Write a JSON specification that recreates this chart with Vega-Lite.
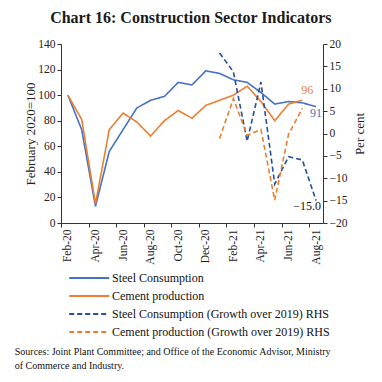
{
  "$schema": "https://vega.github.io/schema/vega-lite/v6.json",
  "background": "white",
  "padding": {"left": 14, "top": 10, "right": 5, "bottom": 2},
  "title": {"text": "Chart 16: Construction Sector Indicators", "font": "Liberation Serif", "fontSize": 16, "fontWeight": "bold", "color": "#1a1a1a", "anchor": "middle", "offset": 12},
  "config": {
    "font": "Liberation Serif",
    "view": {"stroke": null},
    "axis": {"labelFont": "Liberation Serif", "labelFontSize": 11.5, "labelColor": "#222", "titleFont": "Liberation Serif", "titleFontSize": 13, "titleFontWeight": "normal", "titleColor": "#222", "domainColor": "#333", "tickColor": "#333", "tickSize": 4, "grid": false, "labelPadding": 2, "labelOverlap": false}
  },
  "datasets": {
    "d": [
      {"m": "Feb-20", "s": "Steel Consumption", "v": 100},
      {"m": "Mar-20", "s": "Steel Consumption", "v": 73},
      {"m": "Apr-20", "s": "Steel Consumption", "v": 13},
      {"m": "May-20", "s": "Steel Consumption", "v": 56},
      {"m": "Jun-20", "s": "Steel Consumption", "v": 73},
      {"m": "Jul-20", "s": "Steel Consumption", "v": 90},
      {"m": "Aug-20", "s": "Steel Consumption", "v": 96},
      {"m": "Sep-20", "s": "Steel Consumption", "v": 99},
      {"m": "Oct-20", "s": "Steel Consumption", "v": 110},
      {"m": "Nov-20", "s": "Steel Consumption", "v": 108},
      {"m": "Dec-20", "s": "Steel Consumption", "v": 119},
      {"m": "Jan-21", "s": "Steel Consumption", "v": 117},
      {"m": "Feb-21", "s": "Steel Consumption", "v": 112},
      {"m": "Mar-21", "s": "Steel Consumption", "v": 110},
      {"m": "Apr-21", "s": "Steel Consumption", "v": 102},
      {"m": "May-21", "s": "Steel Consumption", "v": 93},
      {"m": "Jun-21", "s": "Steel Consumption", "v": 95},
      {"m": "Jul-21", "s": "Steel Consumption", "v": 94},
      {"m": "Aug-21", "s": "Steel Consumption", "v": 91},
      {"m": "Feb-20", "s": "Cement production", "v": 100},
      {"m": "Mar-20", "s": "Cement production", "v": 81},
      {"m": "Apr-20", "s": "Cement production", "v": 15},
      {"m": "May-20", "s": "Cement production", "v": 73},
      {"m": "Jun-20", "s": "Cement production", "v": 86},
      {"m": "Jul-20", "s": "Cement production", "v": 79},
      {"m": "Aug-20", "s": "Cement production", "v": 68},
      {"m": "Sep-20", "s": "Cement production", "v": 80},
      {"m": "Oct-20", "s": "Cement production", "v": 88},
      {"m": "Nov-20", "s": "Cement production", "v": 82},
      {"m": "Dec-20", "s": "Cement production", "v": 92},
      {"m": "Jan-21", "s": "Cement production", "v": 96},
      {"m": "Feb-21", "s": "Cement production", "v": 100},
      {"m": "Mar-21", "s": "Cement production", "v": 107},
      {"m": "Apr-21", "s": "Cement production", "v": 95},
      {"m": "May-21", "s": "Cement production", "v": 80},
      {"m": "Jun-21", "s": "Cement production", "v": 93},
      {"m": "Jul-21", "s": "Cement production", "v": 96},
      {"m": "Jan-21", "s": "Steel Consumption (Growth over 2019) RHS", "v": 18},
      {"m": "Feb-21", "s": "Steel Consumption (Growth over 2019) RHS", "v": 13.8},
      {"m": "Mar-21", "s": "Steel Consumption (Growth over 2019) RHS", "v": -1.7},
      {"m": "Apr-21", "s": "Steel Consumption (Growth over 2019) RHS", "v": 11.5},
      {"m": "May-21", "s": "Steel Consumption (Growth over 2019) RHS", "v": -11.3},
      {"m": "Jun-21", "s": "Steel Consumption (Growth over 2019) RHS", "v": -5.2},
      {"m": "Jul-21", "s": "Steel Consumption (Growth over 2019) RHS", "v": -5.9},
      {"m": "Aug-21", "s": "Steel Consumption (Growth over 2019) RHS", "v": -15.0},
      {"m": "Jan-21", "s": "Cement production (Growth over 2019) RHS", "v": -1.1},
      {"m": "Feb-21", "s": "Cement production (Growth over 2019) RHS", "v": 7.8},
      {"m": "Mar-21", "s": "Cement production (Growth over 2019) RHS", "v": -0.4},
      {"m": "Apr-21", "s": "Cement production (Growth over 2019) RHS", "v": 0.9},
      {"m": "May-21", "s": "Cement production (Growth over 2019) RHS", "v": -14.9},
      {"m": "Jun-21", "s": "Cement production (Growth over 2019) RHS", "v": -0.2},
      {"m": "Jul-21", "s": "Cement production (Growth over 2019) RHS", "v": 5.6}
    ]
  },
  "resolve": {"legend": {"color": "independent", "strokeDash": "independent"}},
  "vconcat": [
    {
      "title": {"text": ["Sources: Joint Plant Committee; and Office of the Economic Advisor, Ministry", "of Commerce and Industry."], "orient": "bottom", "anchor": "start", "frame": "bounds", "font": "Liberation Serif", "fontSize": 10, "fontWeight": "normal", "color": "#111", "lineHeight": 14, "offset": 7, "dx": -10},
      "resolve": {"legend": {"color": "independent", "strokeDash": "independent"}},
      "vconcat": [
        {
          "width": 262,
          "height": 179,
          "data": {"name": "d"},
          "encoding": {
            "x": {
              "field": "m", "type": "ordinal",
              "sort": ["Feb-20","Mar-20","Apr-20","May-20","Jun-20","Jul-20","Aug-20","Sep-20","Oct-20","Nov-20","Dec-20","Jan-21","Feb-21","Mar-21","Apr-21","May-21","Jun-21","Jul-21","Aug-21"],
              "scale": {"type": "point", "padding": 0.5, "domain": ["Feb-20","Mar-20","Apr-20","May-20","Jun-20","Jul-20","Aug-20","Sep-20","Oct-20","Nov-20","Dec-20","Jan-21","Feb-21","Mar-21","Apr-21","May-21","Jun-21","Jul-21","Aug-21"]},
              "axis": {"title": null, "values": ["Feb-20","Apr-20","Jun-20","Aug-20","Oct-20","Dec-20","Feb-21","Apr-21","Jun-21","Aug-21"], "labelAngle": 270, "tickOffset": -6.9, "labelOffset": 6.9}
            }
          },
          "layer": [
            {
              "encoding": {
                "y": {"field": "v", "type": "quantitative", "scale": {"domain": [0, 140]}, "axis": {"title": "February 2020=100", "values": [0,20,40,60,80,100,120,140], "titlePadding": 0}}
              },
              "layer": [
                {
                  "transform": [{"filter": "datum.s == 'Steel Consumption' || datum.s == 'Cement production'"}],
                  "mark": {"type": "line", "strokeWidth": 1.6},
                  "encoding": {
                    "color": {"field": "s", "type": "nominal", "scale": {"domain": ["Steel Consumption", "Cement production", "Steel Consumption (Growth over 2019) RHS", "Cement production (Growth over 2019) RHS"], "range": ["#4472C4", "#ED7D31", "#234F9C", "#ED7D31"]}, "legend": {"title": null, "orient": "bottom", "direction": "vertical", "columns": 1, "symbolType": "M-0.35,0H4.65", "symbolSize": 256, "symbolStrokeWidth": 2, "labelOffset": 31, "labelFont": "Liberation Serif", "labelFontSize": 12, "labelColor": "#111", "labelLimit": 400, "rowPadding": 3, "padding": 2, "offset": 2}},
                    "strokeDash": {"field": "s", "type": "nominal", "scale": {"domain": ["Steel Consumption", "Cement production", "Steel Consumption (Growth over 2019) RHS", "Cement production (Growth over 2019) RHS"], "range": [[1,0],[1,0],[5,3],[5,3]]}, "legend": {"title": null}}
                  }
                },
                {
                  "transform": [{"filter": "datum.s == 'Cement production' && datum.m == 'Jul-21'"}],
                  "mark": {"type": "text", "color": "#ED7D31", "fontSize": 12, "font": "Liberation Serif", "dx": 5, "dy": -10},
                  "encoding": {"text": {"field": "v", "type": "quantitative", "format": "d"}}
                },
                {
                  "transform": [{"filter": "datum.s == 'Steel Consumption' && datum.m == 'Aug-21'"}],
                  "mark": {"type": "text", "color": "#4472C4", "fontSize": 12, "font": "Liberation Serif", "dx": 0, "dy": 6},
                  "encoding": {"text": {"field": "v", "type": "quantitative", "format": "d"}}
                }
              ]
            },
            {
              "encoding": {
                "y": {"field": "v", "type": "quantitative", "scale": {"domain": [-20, 20]}, "axis": {"orient": "right", "title": "Per cent", "titleAngle": 270, "values": [-20,-15,-10,-5,0,5,10,15,20], "titlePadding": 20}}
              },
              "layer": [
                {
                  "transform": [{"filter": "datum.s == 'Steel Consumption (Growth over 2019) RHS' || datum.s == 'Cement production (Growth over 2019) RHS'"}],
                  "mark": {"type": "line", "strokeWidth": 1.6},
                  "encoding": {
                    "color": {"field": "s", "type": "nominal", "scale": {"domain": ["Steel Consumption", "Cement production", "Steel Consumption (Growth over 2019) RHS", "Cement production (Growth over 2019) RHS"], "range": ["#4472C4", "#ED7D31", "#234F9C", "#ED7D31"]}, "legend": {"title": null}},
                    "strokeDash": {"field": "s", "type": "nominal", "scale": {"domain": ["Steel Consumption", "Cement production", "Steel Consumption (Growth over 2019) RHS", "Cement production (Growth over 2019) RHS"], "range": [[1,0],[1,0],[5,3],[5,3]]}, "legend": {"title": null}}
                  }
                },
                {
                  "transform": [{"filter": "datum.s == 'Steel Consumption (Growth over 2019) RHS' && datum.m == 'Aug-21'"}],
                  "mark": {"type": "text", "color": "#111", "fontSize": 12, "font": "Liberation Serif", "align": "right", "dx": 5, "dy": 5},
                  "encoding": {"text": {"field": "v", "type": "quantitative", "format": ".1f"}}
                }
              ]
            }
          ],
          "resolve": {"scale": {"y": "independent"}}
        }
      ]
    }
  ]
}
